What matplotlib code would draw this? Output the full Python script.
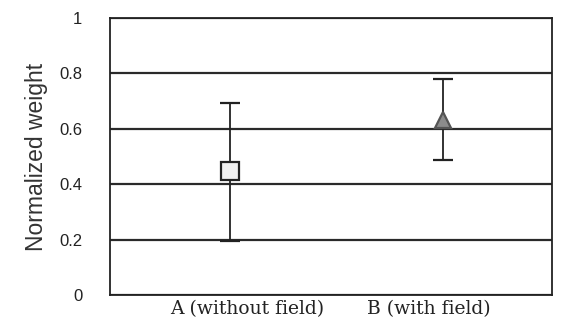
import matplotlib
matplotlib.use("Agg")
import matplotlib.pyplot as plt

# values
groups = ["A (without field)", "B (with field)"]
means = [0.448, 0.632]
upper = [0.693, 0.780]
lower = [0.195, 0.487]
yticks = [0, 0.2, 0.4, 0.6, 0.8, 1]
ytick_labels = ["0", "0.2", "0.4", "0.6", "0.8", "1"]

fig = plt.figure(figsize=(5.74, 3.24), dpi=100)
ax = fig.add_axes([110 / 574, 1 - 295 / 324, 442 / 574, 277 / 324])

xs = [1, 2]
styles = [dict(marker="s", ms=12.5, mfc="#f0f0f0", mec="#222222"),
          dict(marker="^", ms=11, mfc="#8c8c8c", mec="#555555")]
for x, m, lo, hi, st in zip(xs, means, lower, upper, styles):
    ax.errorbar([x], [m], yerr=[[m - lo], [hi - m]], fmt="none",
                ecolor="#222222", elinewidth=1.3, capsize=7, capthick=1.6, zorder=3)
    ax.plot([x], [m], linestyle="none", mew=1.6, zorder=4, **st)

ax.set_xlim(0.437, 2.51)
ax.set_ylim(0, 1)
ax.yaxis.grid(True, color="#2a2a2a", linewidth=1.6)
ax.set_axisbelow(True)
ax.set_yticks(yticks)
ax.set_yticklabels(ytick_labels, family=["Liberation Sans", "DejaVu Sans"],
                   fontsize=12, color="#222222")
ax.tick_params(axis="y", length=0, pad=20)

# category labels are slightly off the points, as in the source
ax.set_xticks([1.08, 1.934])
ax.set_xticklabels(groups, family="DejaVu Serif", fontsize=13.5, color="#222222")
ax.tick_params(axis="x", length=0, pad=4)

ax.set_ylabel("Normalized weight", family=["Liberation Sans", "DejaVu Sans"],
              fontsize=16.5, color="#333333", labelpad=8)

for sp in ax.spines.values():
    sp.set_color("#222222")
    sp.set_linewidth(1.3)

fig.savefig("out.png", dpi=100)
